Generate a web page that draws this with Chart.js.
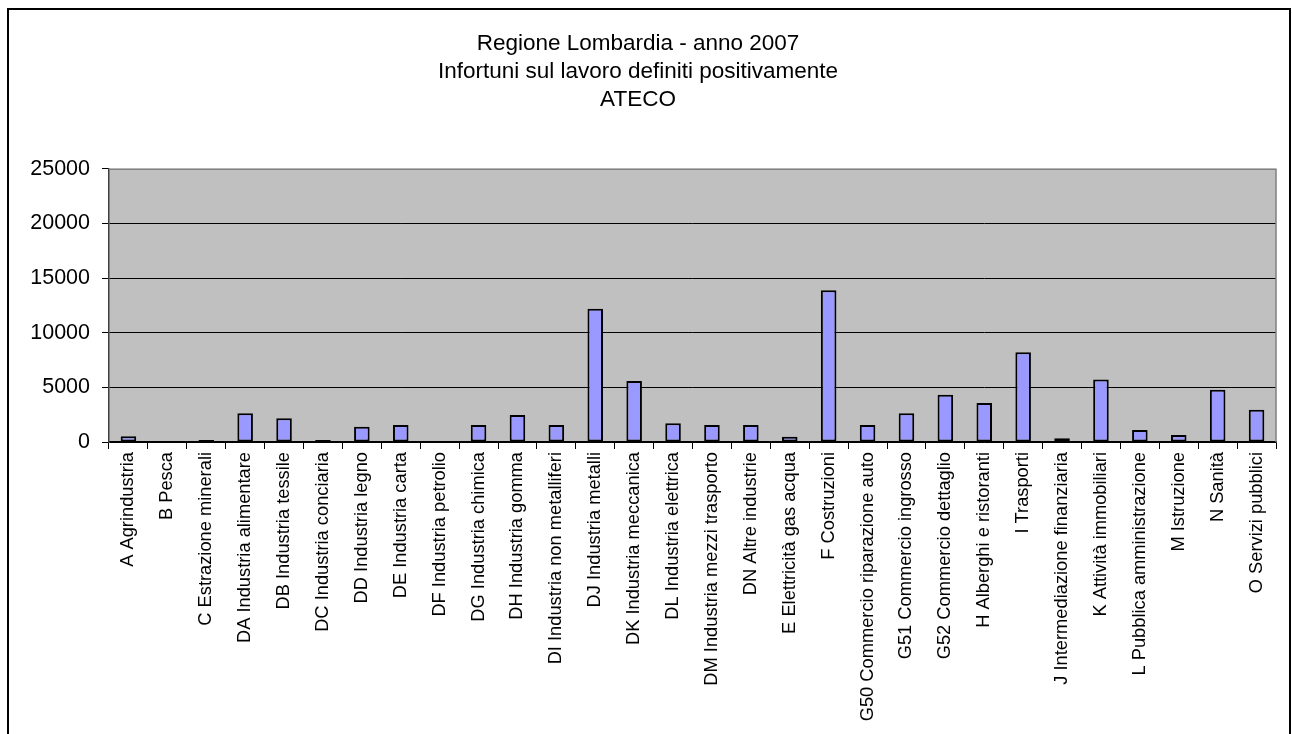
<!DOCTYPE html>
<html>
<head>
<meta charset="utf-8">
<script src="https://cdn.jsdelivr.net/npm/chart.js@4"></script>
<style>
  html, body { margin: 0; padding: 0; background: #ffffff; }
  #wrap { width: 1292px; height: 734px; position: relative; }
</style>
</head>
<body>
<div id="wrap"><canvas id="c" width="1292" height="734"></canvas></div>
<script>
const titleLines = [
  "Regione Lombardia - anno 2007",
  "Infortuni sul lavoro definiti positivamente",
  "ATECO"
];

const categories = [
  "A Agrindustria",
  "B Pesca",
  "C Estrazione minerali",
  "DA Industria alimentare",
  "DB Industria tessile",
  "DC Industria conciaria",
  "DD Industria legno",
  "DE Industria carta",
  "DF Industria petrolio",
  "DG Industria chimica",
  "DH Industria gomma",
  "DI Industria non metalliferi",
  "DJ Industria metalli",
  "DK Industria meccanica",
  "DL Industria elettrica",
  "DM Industria mezzi trasporto",
  "DN Altre industrie",
  "E Elettricità gas acqua",
  "F Costruzioni",
  "G50 Commercio riparazione auto",
  "G51 Commercio ingrosso",
  "G52 Commercio dettaglio",
  "H Alberghi e ristoranti",
  "I Trasporti",
  "J Intermediazione finanziaria",
  "K Attività immobiliari",
  "L Pubblica amministrazione",
  "M Istruzione",
  "N Sanità",
  "O Servizi pubblici"
];

const infortuni = [
  520, 0, 180, 2620, 2170, 180, 1400, 1560, 0, 1560,
  2470, 1560, 12180, 5590, 1710, 1560, 1560, 490, 13890, 1560,
  2620, 4330, 3570, 8210, 340, 5710, 1100, 640, 4790, 2960
];

const yMin = 0;
const yMax = 25000;
const yStep = 5000;

const frameAndPlot = {
  id: 'frameAndPlot',
  beforeDraw(chart) {
    const ctx = chart.ctx;
    const a = chart.chartArea;
    ctx.save();
    ctx.fillStyle = '#ffffff';
    ctx.fillRect(0, 0, chart.width, chart.height);
    ctx.fillStyle = '#c0c0c0';
    ctx.fillRect(a.left, a.top, a.right - a.left, a.bottom - a.top);
    ctx.restore();
  },
  afterDatasetsDraw(chart) {
    const ctx = chart.ctx;
    const a = chart.chartArea;
    ctx.save();
    ctx.strokeStyle = '#808080';
    ctx.lineWidth = 1.5;
    ctx.beginPath();
    ctx.moveTo(a.left, a.top + 0.5);
    ctx.lineTo(a.right, a.top + 0.5);
    ctx.lineTo(a.right, a.bottom);
    ctx.stroke();
    ctx.restore();
  },
  afterDraw(chart) {
    const ctx = chart.ctx;
    ctx.save();
    ctx.strokeStyle = '#000000';
    ctx.lineWidth = 2;
    ctx.strokeRect(8, 9, 1282, 800);
    ctx.restore();
  }
};

new Chart(document.getElementById('c'), {
  type: 'bar',
  data: {
    labels: categories,
    datasets: [{
      label: 'Infortuni',
      data: infortuni,
      backgroundColor: '#9999ff',
      borderColor: '#000000',
      borderWidth: (ctx) => (ctx.raw ? 2 : 0),
      borderSkipped: false,
      barPercentage: 0.4,
      categoryPercentage: 1.0
    }]
  },
  options: {
    responsive: false,
    animation: false,
    devicePixelRatio: 1,
    layout: { padding: { left: 0, right: 16, top: 0, bottom: 0 } },
    plugins: {
      legend: { display: false },
      tooltip: { enabled: false },
      title: {
        display: true,
        text: titleLines,
        color: '#000000',
        font: { family: "'Liberation Sans', Arial, sans-serif", size: 22.5, weight: 'normal', lineHeight: 1.24 },
        padding: { top: 30, bottom: 55 }
      }
    },
    scales: {
      x: {
        offset: true,
        grid: {
          offset: true,
          display: true,
          drawOnChartArea: false,
          drawTicks: true,
          tickLength: 7,
          tickColor: '#000000',
          tickWidth: 1
        },
        border: { display: true, color: '#000000', width: 1.5 },
        ticks: {
          autoSkip: false,
          minRotation: 90,
          maxRotation: 90,
          padding: 3,
          color: '#000000',
          font: { family: "'Liberation Sans', Arial, sans-serif", size: 18.3 }
        },
        afterFit(scale) { scale.height = 292; }
      },
      y: {
        min: yMin,
        max: yMax,
        ticks: {
          stepSize: yStep,
          padding: 12,
          color: '#000000',
          font: { family: "'Liberation Sans', Arial, sans-serif", size: 21.5 },
          callback: (v) => String(v)
        },
        grid: {
          color: (ctx) => (ctx.tick && ctx.tick.value === yMax ? 'rgba(0,0,0,0)' : '#000000'),
          lineWidth: 1,
          tickLength: 7,
          tickColor: '#000000',
          drawTicks: true
        },
        border: { display: true, color: '#404040', width: 1.5 },
        afterFit(scale) { scale.width = 109; }
      }
    }
  },
  plugins: [frameAndPlot]
});
</script>
</body>
</html>
